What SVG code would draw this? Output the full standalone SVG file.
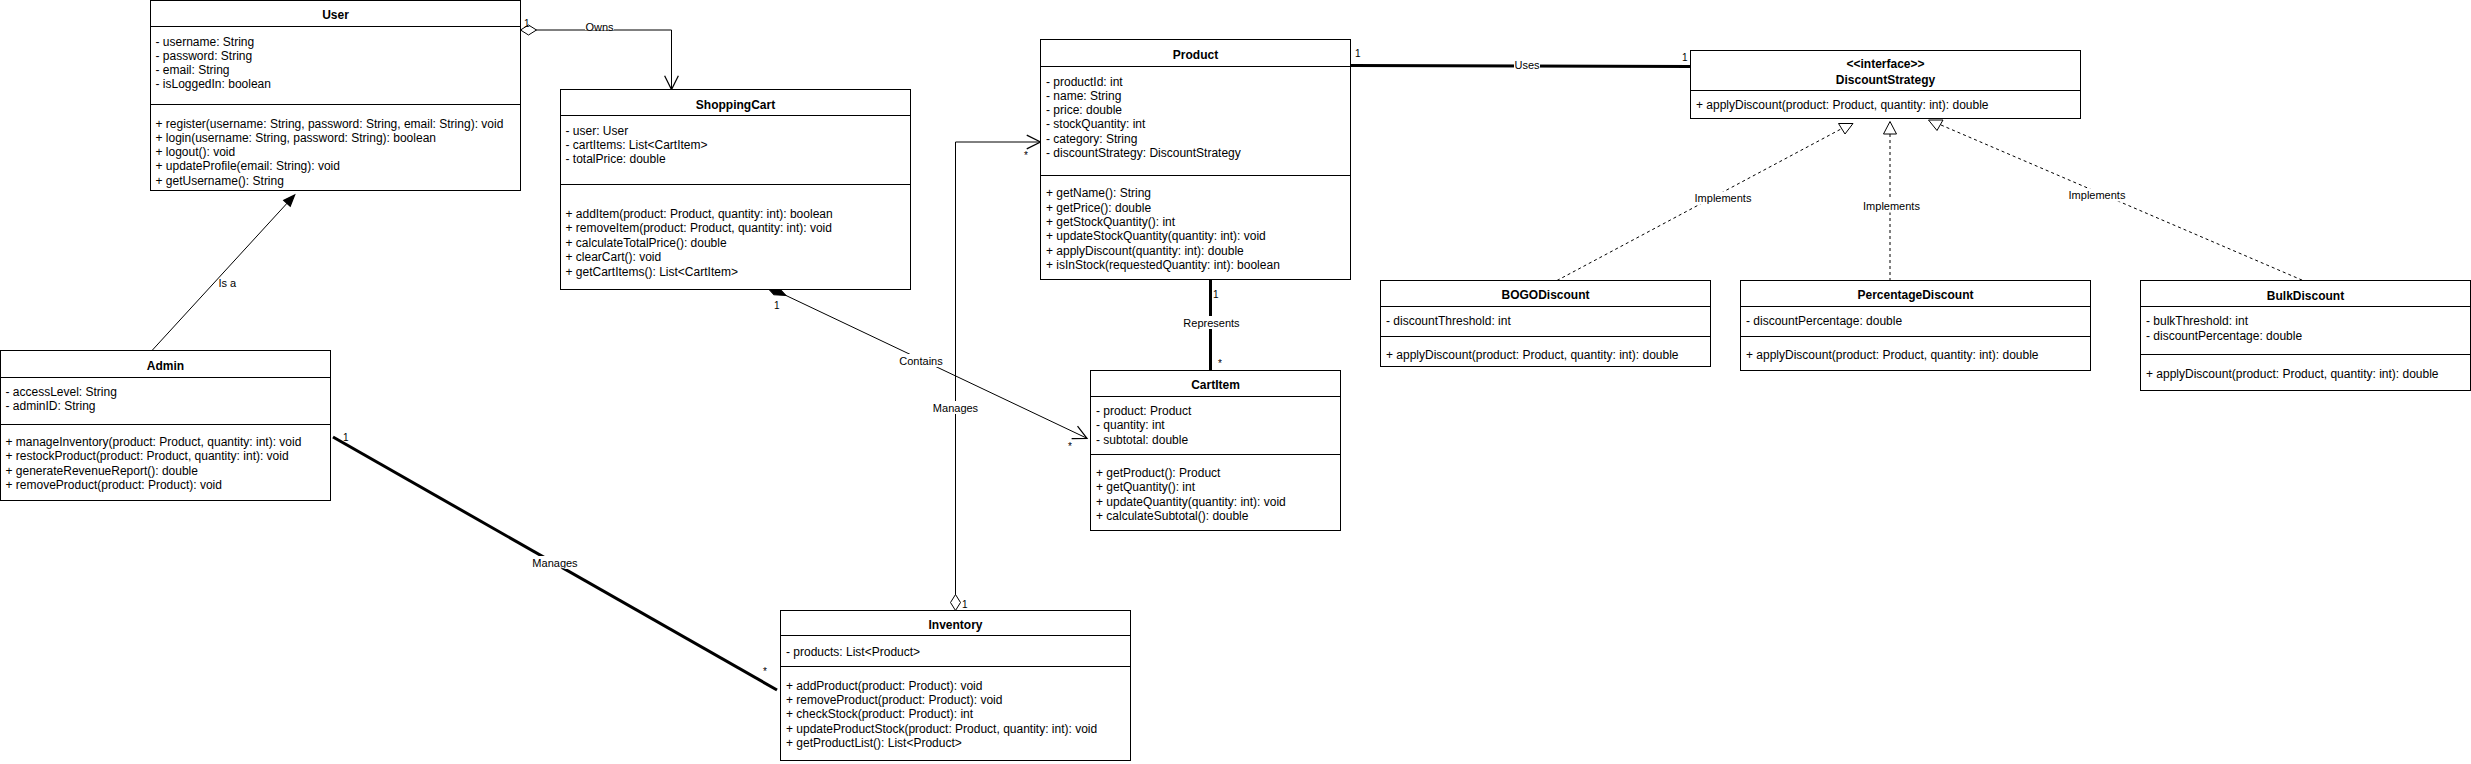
<svg xmlns="http://www.w3.org/2000/svg" width="2471" height="764" viewBox="0 0 2471 764">
<style>
.box{fill:#fff;stroke:#000;stroke-width:1}
.ln{fill:none;stroke:#000;stroke-width:1}
.t{font-family:"Liberation Sans",Arial,Helvetica,sans-serif;font-size:12px;fill:#000}
.h{font-weight:bold;text-anchor:middle}
.lbl{font-family:"Liberation Sans",Arial,Helvetica,sans-serif;font-size:11px;fill:#000;text-anchor:middle}
.mu{font-family:"Liberation Sans",Arial,Helvetica,sans-serif;font-size:10px;fill:#000}
.bg{fill:#fff}
.thin{fill:none;stroke:#000;stroke-width:1}
.thick{fill:none;stroke:#000;stroke-width:3}
.dash{fill:none;stroke:#000;stroke-width:1;stroke-dasharray:3 3}
.tri{fill:#fff;stroke:#000;stroke-width:1}
</style>
<defs>
<marker id="open" markerUnits="userSpaceOnUse" markerWidth="20" markerHeight="20" viewBox="-12 -8 14 16" refX="0" refY="0" orient="auto" overflow="visible">
<path d="M-11,-5.5 L0,0 L-11,5.5" fill="none" stroke="#000" stroke-width="1"/>
</marker>
<marker id="block" markerUnits="userSpaceOnUse" markerWidth="20" markerHeight="20" viewBox="-12 -8 14 16" refX="0" refY="0" orient="auto" overflow="visible">
<path d="M-9,-3.5 L0,0 L-9,3.5 Z" fill="#000" stroke="#000" stroke-width="1"/>
</marker>
<marker id="odiamond" markerUnits="userSpaceOnUse" markerWidth="20" markerHeight="20" viewBox="-2 -8 20 16" refX="0" refY="0" orient="auto" overflow="visible">
<path d="M0,0 L8,-5 L16,0 L8,5 Z" fill="#fff" stroke="#000" stroke-width="1"/>
</marker>
<marker id="fdiamond" markerUnits="userSpaceOnUse" markerWidth="26" markerHeight="20" viewBox="-2 -8 26 16" refX="0" refY="0" orient="auto" overflow="visible">
<path d="M0,0 L11,-4.5 L22,0 L11,4.5 Z" fill="#000" stroke="#000" stroke-width="1"/>
</marker>
</defs>
<rect width="2471" height="764" fill="#fff"/>

<g id="connectors">
  <!-- Owns -->
  <path class="thin" d="M520.5,30 H671.5 V89.5" marker-start="url(#odiamond)" marker-end="url(#open)"/>
  <text class="mu" x="524" y="27">1</text>
  <rect class="bg" x="585" y="21" width="29" height="9"/>
  <text class="lbl" x="599.5" y="31">Owns</text>
  <!-- Is a -->
  <path class="thin" d="M152,350.5 L294.6,195" marker-end="url(#block)"/>
  <text class="lbl" x="218.5" y="287" style="text-anchor:start">Is a</text>
  <!-- Admin Manages Inventory -->
  <path class="thick" d="M333,437 L777,690"/>
  <text class="mu" x="343" y="441">1</text>
  <rect class="bg" x="532" y="556" width="46" height="13"/>
  <text class="lbl" x="555" y="567">Manages</text>
  <text class="mu" x="763" y="675">*</text>
  <!-- Contains -->
  <path class="thin" d="M766,286 L1087,438.3" marker-start="url(#fdiamond)" marker-end="url(#open)"/>
  <text class="mu" x="774" y="309">1</text>
  <rect class="bg" x="899" y="354" width="44" height="13"/>
  <text class="lbl" x="921" y="365">Contains</text>
  <text class="mu" x="1068" y="450">*</text>
  <!-- Inventory Manages Product -->
  <path class="thin" d="M955.5,610.5 V142 H1040.5" marker-start="url(#odiamond)" marker-end="url(#open)"/>
  <rect class="bg" x="932.5" y="401" width="46" height="13"/>
  <text class="lbl" x="955.5" y="412">Manages</text>
  <text class="mu" x="962" y="608">1</text>
  <text class="mu" x="1024" y="159">*</text>
  <!-- Represents -->
  <path class="thick" d="M1210.5,280 V370.5"/>
  <text class="mu" x="1213" y="297.5">1</text>
  <rect class="bg" x="1183" y="316" width="57" height="13"/>
  <text class="lbl" x="1211.5" y="326.5">Represents</text>
  <text class="mu" x="1218" y="367">*</text>
  <!-- Uses -->
  <path class="thick" d="M1351,65.5 L1690.5,66.5"/>
  <text class="mu" x="1355" y="56.5">1</text>
  <rect class="bg" x="1514" y="59" width="26" height="12"/>
  <text class="lbl" x="1527" y="69">Uses</text>
  <text class="mu" x="1682" y="60.5">1</text>
  <!-- Implements BOGO -->
  <path class="dash" d="M1557,280.5 L1841,129"/>
  <polygon class="tri" points="1838.5,123.5 1853,123.5 1845,134"/>
  <rect class="bg" x="1694" y="191.5" width="58" height="13"/>
  <text class="lbl" x="1723" y="202">Implements</text>
  <!-- Implements Percentage -->
  <path class="dash" d="M1890,134 V280.5"/>
  <polygon class="tri" points="1890,121.5 1883.5,134 1896.5,134"/>
  <rect class="bg" x="1862.5" y="199.5" width="58" height="13"/>
  <text class="lbl" x="1891.5" y="210">Implements</text>
  <!-- Implements Bulk -->
  <path class="dash" d="M1941,125 L2303,280.5"/>
  <polygon class="tri" points="1928.5,120 1943,120 1937,130.5"/>
  <rect class="bg" x="2068" y="188.5" width="58" height="13"/>
  <text class="lbl" x="2097" y="199">Implements</text>
</g>

<g id="User">
  <rect class="box" x="150.5" y="0.5" width="370" height="190"/>
  <path class="ln" d="M150.5,26.5 H520.5 M150.5,104.5 H520.5"/>
  <text class="t h" x="335.5" y="19">User</text>
  <text class="t" x="155.5" y="45.5">- username: String</text>
  <text class="t" x="155.5" y="59.8">- password: String</text>
  <text class="t" x="155.5" y="74.1">- email: String</text>
  <text class="t" x="155.5" y="88.4">- isLoggedIn: boolean</text>
  <text class="t" x="155.5" y="127.5">+ register(username: String, password: String, email: String): void</text>
  <text class="t" x="155.5" y="141.8">+ login(username: String, password: String): boolean</text>
  <text class="t" x="155.5" y="156.1">+ logout(): void</text>
  <text class="t" x="155.5" y="170.4">+ updateProfile(email: String): void</text>
  <text class="t" x="155.5" y="184.7">+ getUsername(): String</text>
</g>

<g id="Admin">
  <rect class="box" x="0.5" y="350.5" width="330" height="150"/>
  <path class="ln" d="M0.5,377.5 H330.5 M0.5,424.5 H330.5"/>
  <text class="t h" x="165.5" y="370">Admin</text>
  <text class="t" x="5.5" y="395.8">- accessLevel: String</text>
  <text class="t" x="5.5" y="410.1">- adminID: String</text>
  <text class="t" x="5.5" y="446">+ manageInventory(product: Product, quantity: int): void</text>
  <text class="t" x="5.5" y="460.4">+ restockProduct(product: Product, quantity: int): void</text>
  <text class="t" x="5.5" y="474.8">+ generateRevenueReport(): double</text>
  <text class="t" x="5.5" y="489.2">+ removeProduct(product: Product): void</text>
</g>

<g id="ShoppingCart">
  <rect class="box" x="560.5" y="89.5" width="350" height="200"/>
  <path class="ln" d="M560.5,115.5 H910.5 M560.5,184.5 H910.5"/>
  <text class="t h" x="735.5" y="109">ShoppingCart</text>
  <text class="t" x="565.5" y="134.5">- user: User</text>
  <text class="t" x="565.5" y="148.8">- cartItems: List&lt;CartItem&gt;</text>
  <text class="t" x="565.5" y="163.1">- totalPrice: double</text>
  <text class="t" x="565.5" y="218">+ addItem(product: Product, quantity: int): boolean</text>
  <text class="t" x="565.5" y="232.4">+ removeItem(product: Product, quantity: int): void</text>
  <text class="t" x="565.5" y="246.8">+ calculateTotalPrice(): double</text>
  <text class="t" x="565.5" y="261.2">+ clearCart(): void</text>
  <text class="t" x="565.5" y="275.6">+ getCartItems(): List&lt;CartItem&gt;</text>
</g>

<g id="Product">
  <rect class="box" x="1040.5" y="39.5" width="310" height="240"/>
  <path class="ln" d="M1040.5,66.5 H1350.5 M1040.5,175.5 H1350.5"/>
  <text class="t h" x="1195.5" y="59">Product</text>
  <text class="t" x="1046" y="85.7">- productId: int</text>
  <text class="t" x="1046" y="99.9">- name: String</text>
  <text class="t" x="1046" y="114.1">- price: double</text>
  <text class="t" x="1046" y="128.3">- stockQuantity: int</text>
  <text class="t" x="1046" y="142.5">- category: String</text>
  <text class="t" x="1046" y="156.7">- discountStrategy: DiscountStrategy</text>
  <text class="t" x="1046" y="197.3">+ getName(): String</text>
  <text class="t" x="1046" y="211.6">+ getPrice(): double</text>
  <text class="t" x="1046" y="225.9">+ getStockQuantity(): int</text>
  <text class="t" x="1046" y="240.2">+ updateStockQuantity(quantity: int): void</text>
  <text class="t" x="1046" y="254.5">+ applyDiscount(quantity: int): double</text>
  <text class="t" x="1046" y="268.8">+ isInStock(requestedQuantity: int): boolean</text>
</g>

<g id="DiscountStrategy">
  <rect class="box" x="1690.5" y="50.5" width="390" height="68"/>
  <path class="ln" d="M1690.5,90.5 H2080.5"/>
  <text class="t h" x="1885.5" y="68">&lt;&lt;interface&gt;&gt;</text>
  <text class="t h" x="1885.5" y="84">DiscountStrategy</text>
  <text class="t" x="1696" y="109">+ applyDiscount(product: Product, quantity: int): double</text>
</g>

<g id="BOGODiscount">
  <rect class="box" x="1380.5" y="280.5" width="330" height="86"/>
  <path class="ln" d="M1380.5,306.5 H1710.5 M1380.5,336.5 H1710.5"/>
  <text class="t h" x="1545.5" y="299">BOGODiscount</text>
  <text class="t" x="1386" y="325">- discountThreshold: int</text>
  <text class="t" x="1386" y="358.5">+ applyDiscount(product: Product, quantity: int): double</text>
</g>

<g id="PercentageDiscount">
  <rect class="box" x="1740.5" y="280.5" width="350" height="90"/>
  <path class="ln" d="M1740.5,306.5 H2090.5 M1740.5,336.5 H2090.5"/>
  <text class="t h" x="1915.5" y="299">PercentageDiscount</text>
  <text class="t" x="1746" y="325">- discountPercentage: double</text>
  <text class="t" x="1746" y="358.5">+ applyDiscount(product: Product, quantity: int): double</text>
</g>

<g id="BulkDiscount">
  <rect class="box" x="2140.5" y="280.5" width="330" height="110"/>
  <path class="ln" d="M2140.5,306.5 H2470.5 M2140.5,354.5 H2470.5"/>
  <text class="t h" x="2305.5" y="300">BulkDiscount</text>
  <text class="t" x="2146" y="325">- bulkThreshold: int</text>
  <text class="t" x="2146" y="339.6">- discountPercentage: double</text>
  <text class="t" x="2146" y="377.5">+ applyDiscount(product: Product, quantity: int): double</text>
</g>

<g id="CartItem">
  <rect class="box" x="1090.5" y="370.5" width="250" height="160"/>
  <path class="ln" d="M1090.5,396.5 H1340.5 M1090.5,454.5 H1340.5"/>
  <text class="t h" x="1215.5" y="389">CartItem</text>
  <text class="t" x="1096" y="414.7">- product: Product</text>
  <text class="t" x="1096" y="429">- quantity: int</text>
  <text class="t" x="1096" y="443.5">- subtotal: double</text>
  <text class="t" x="1096" y="476.7">+ getProduct(): Product</text>
  <text class="t" x="1096" y="491.1">+ getQuantity(): int</text>
  <text class="t" x="1096" y="505.5">+ updateQuantity(quantity: int): void</text>
  <text class="t" x="1096" y="519.9">+ calculateSubtotal(): double</text>
</g>

<g id="Inventory">
  <rect class="box" x="780.5" y="610.5" width="350" height="150"/>
  <path class="ln" d="M780.5,635.5 H1130.5 M780.5,666.5 H1130.5"/>
  <text class="t h" x="955.5" y="629">Inventory</text>
  <text class="t" x="786" y="655.7">- products: List&lt;Product&gt;</text>
  <text class="t" x="786" y="689.7">+ addProduct(product: Product): void</text>
  <text class="t" x="786" y="704">+ removeProduct(product: Product): void</text>
  <text class="t" x="786" y="718.3">+ checkStock(product: Product): int</text>
  <text class="t" x="786" y="732.6">+ updateProductStock(product: Product, quantity: int): void</text>
  <text class="t" x="786" y="746.9">+ getProductList(): List&lt;Product&gt;</text>
</g>
</svg>
